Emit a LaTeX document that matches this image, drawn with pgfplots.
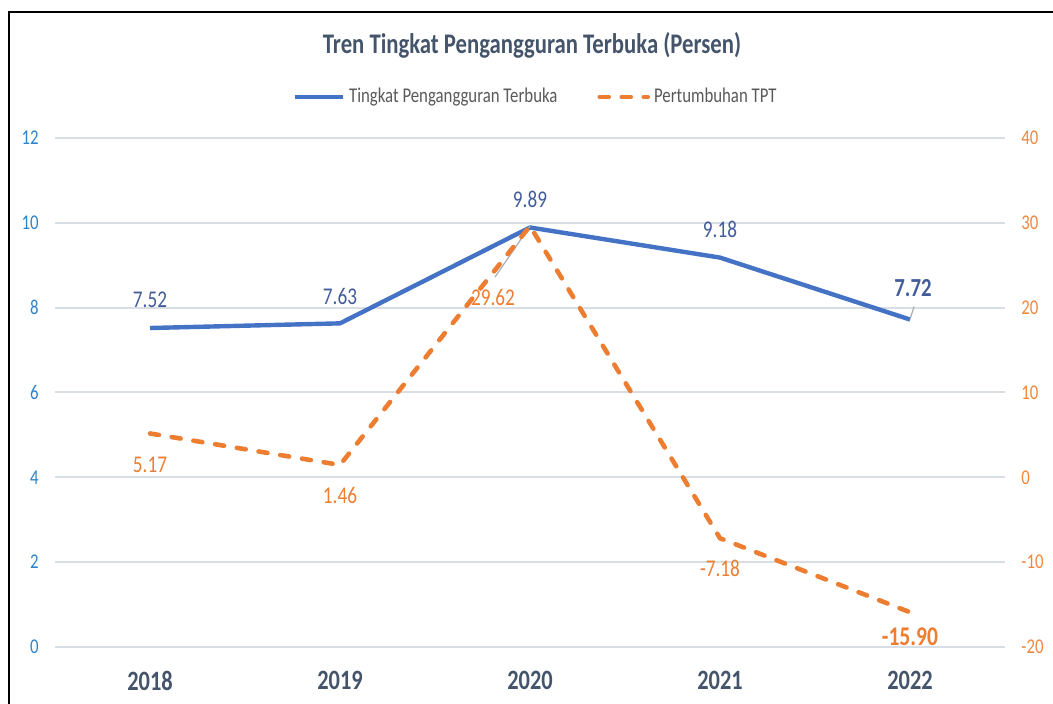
\documentclass[border=0pt]{standalone}
\usepackage{pgfplots}
\pgfplotsset{compat=1.18}
\usepackage{fontspec}
\setmainfont{Carlito}[FakeStretch=0.8]
\definecolor{tptblue}{RGB}{68,114,196}
\definecolor{tptorange}{RGB}{237,125,49}
\definecolor{titlecol}{RGB}{68,84,106}
\definecolor{lblblue}{RGB}{66,92,155}
\definecolor{lefttick}{RGB}{46,130,200}
\definecolor{righttick}{RGB}{240,135,60}
\definecolor{gridcol}{RGB}{217,222,228}
\definecolor{legtext}{RGB}{89,89,89}
\definecolor{leader}{RGB}{166,172,180}
\begin{document}
\begin{tikzpicture}
\begin{axis}[
  width=475pt, height=254.5pt, scale only axis,
  xmin=-0.5, xmax=4.5, ymin=0, ymax=12,
  xtick={0,1,2,3,4}, xticklabels={2018,2019,2020,2021,2022},
  ytick={0,2,...,12},
  axis y line*=left, axis x line*=bottom,
  axis line style={draw=none},
  major tick length=0pt,
  ymajorgrids, grid style={gridcol, line width=1pt},
  /pgf/number format/assume math mode=true,
  xticklabel style={font=\bfseries\fontsize{14}{16}\selectfont, text=titlecol, anchor=north, inner sep=0pt, yshift=-12pt},
  yticklabel style={font=\fontsize{10.5}{12}\selectfont, text=lefttick, anchor=east, inner sep=0pt, xshift=-8pt},
  legend columns=2,
  legend style={at={(0.507,1)}, anchor=center, yshift=20.5pt, draw=none, fill=none,
    font=\fontsize{10.5}{12}\selectfont, text=legtext,
    /tikz/every even column/.append style={column sep=18pt}},
  legend image code/.code={\draw[#1] (0pt,0pt) -- (24pt,0pt);},
  clip=false,
]
\addplot[tptblue, line width=2.2pt, line join=round] coordinates {
  (0,7.52) (1,7.63) (2,9.89) (3,9.18) (4,7.72)};
\addlegendentry{Tingkat Pengangguran Terbuka}
\addlegendimage{tptorange, line width=2.3pt, dash pattern=on 4.5pt off 6.5pt, line cap=round}
\addlegendentry{Pertumbuhan TPT}
\draw[leader, line width=0.6pt] (axis cs:4,7.72) -- ++(2pt,6.5pt);
\node[font=\fontsize{12}{14}\selectfont, text=lblblue] at (axis cs:0,7.52) [yshift=14pt] {7.52};
\node[font=\fontsize{12}{14}\selectfont, text=lblblue] at (axis cs:1,7.63) [yshift=13.5pt] {7.63};
\node[font=\fontsize{12}{14}\selectfont, text=lblblue] at (axis cs:2,9.89) [yshift=14pt] {9.89};
\node[font=\fontsize{12}{14}\selectfont, text=lblblue] at (axis cs:3,9.18) [yshift=14pt] {9.18};
\node[font=\bfseries\fontsize{13}{15}\selectfont, text=lblblue] at (axis cs:4,7.72) [xshift=1.5pt, yshift=15.5pt] {7.72};
\end{axis}
\begin{axis}[
  width=475pt, height=254.5pt, scale only axis,
  xmin=-0.5, xmax=4.5, ymin=-20, ymax=40,
  ytick={-20,-10,...,40},
  axis y line*=right, axis x line=none,
  axis line style={draw=none},
  major tick length=0pt,
  /pgf/number format/assume math mode=true,
  yticklabel style={font=\fontsize{10.5}{12}\selectfont, text=righttick, anchor=west, inner sep=0pt, xshift=8pt},
  clip=false,
]
\draw[leader, line width=0.6pt] (axis cs:2,29.62) -- ++(-17.5pt,-25.5pt);
\addplot[tptorange, line width=2.3pt, dash pattern=on 4.5pt off 6.5pt, line cap=round, line join=round] coordinates {
  (0,5.17) (1,1.46) (2,29.62) (3,-7.18) (4,-15.90)};
\node[font=\fontsize{12}{14}\selectfont, text=tptorange] at (axis cs:0,5.17) [yshift=-15.5pt] {5.17};
\node[font=\fontsize{12}{14}\selectfont, text=tptorange] at (axis cs:1,1.46) [yshift=-15.5pt] {1.46};
\node[font=\fontsize{12}{14}\selectfont, text=tptorange] at (axis cs:2,29.62) [xshift=-18.5pt, yshift=-35.5pt] {29.62};
\node[font=\fontsize{12}{14}\selectfont, text=tptorange] at (axis cs:3,-7.18) [yshift=-15pt] {-7.18};
\node[font=\bfseries\fontsize{13.5}{15}\selectfont, text=tptorange] at (axis cs:4,-15.90) [yshift=-12.5pt] {-15.90};
\end{axis}
\node[font=\bfseries\fontsize{14.2}{16}\selectfont, text=titlecol] at (238.5pt,301pt) {Tren Tingkat Pengangguran Terbuka (Persen)};
\draw[line width=1pt] (-22.75pt,-28.5pt) -- (-22.75pt,317.25pt) -- (499pt,317.25pt);
\pgfresetboundingbox
\useasboundingbox (-27.5pt,-28.5pt) rectangle (499pt,323.5pt);
\end{tikzpicture}
\end{document}
